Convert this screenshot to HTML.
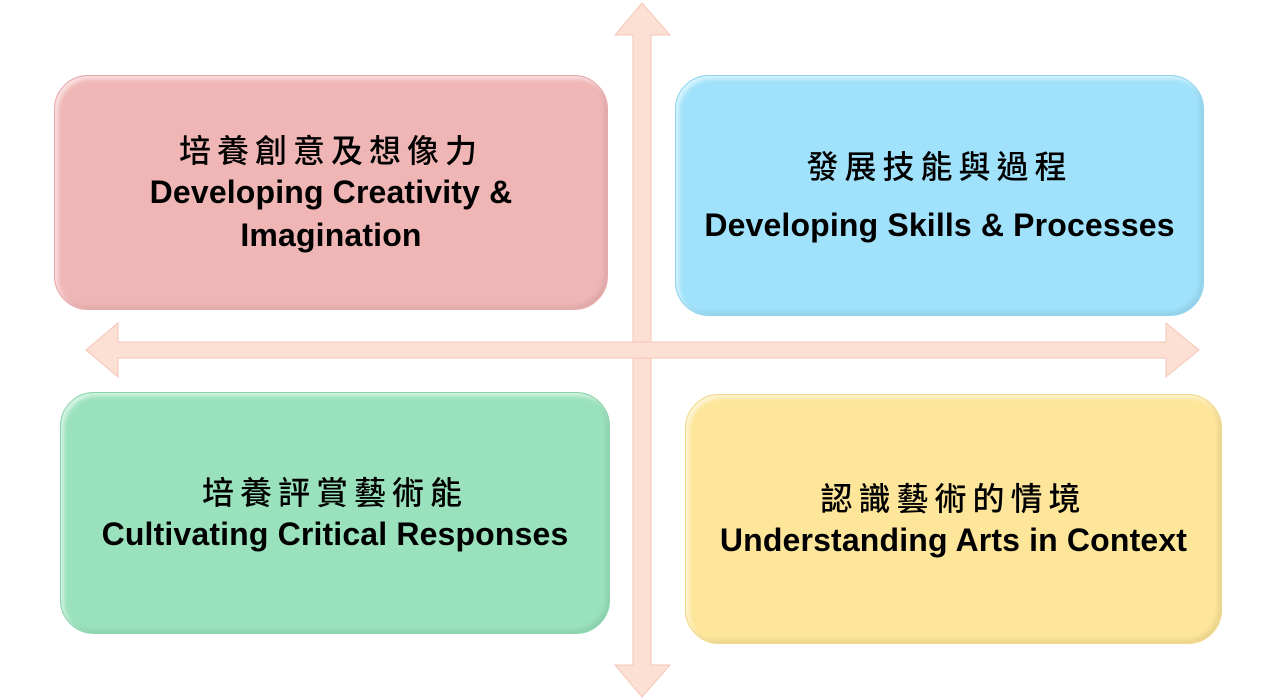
<!DOCTYPE html>
<html><head><meta charset="utf-8"><style>
body{margin:0;width:1280px;height:700px;background:#fff;position:relative;overflow:hidden;font-family:"Liberation Sans","Noto Sans CJK TC",sans-serif}
.b{position:absolute;border-radius:34px;display:flex;flex-direction:column;align-items:center;justify-content:center;text-align:center;color:#000;box-sizing:border-box;box-shadow:inset 3px 3px 4px rgba(255,255,255,.6),inset -3px -3px 4px rgba(0,0,0,.08)}
.zh{font-family:"Noto Sans CJK TC",sans-serif;font-size:32px;letter-spacing:6px;line-height:43px;font-weight:500}
.en{font-weight:bold;font-size:32px;line-height:43px;letter-spacing:0.15px}
svg{position:absolute;left:0;top:0}
</style></head><body>
<svg width="1280" height="700">
<g fill="#fde0d4" stroke="#f4c6b6" stroke-width="1">
<polygon points="633,35 615,35 642,3 670,35 651,35 651,665 670,665 642,697 615,665 633,665"/>
<polygon points="118,342 118,323 86,350 118,377 118,358 1166,358 1166,377 1199,350 1166,323 1166,342"/>
</g>
</svg>
<div class="b" style="left:54px;top:75px;width:554px;height:235px;background:#f0b6b6;border:1px solid #e8a8a8">
<div class="zh">培養創意及想像力</div><div class="en">Developing Creativity &amp;<br>Imagination</div></div>
<div class="b" style="left:675px;top:75px;width:529px;height:241px;background:#a0e2fb;border:1px solid #8fd3f0">
<div class="zh" style="margin-bottom:17px">發展技能與過程</div><div class="en">Developing Skills &amp; Processes</div></div>
<div class="b" style="left:60px;top:392px;width:550px;height:242px;background:#9ae2bd;border:1px solid #88d4ac">
<div class="zh">培養評賞藝術能</div><div class="en">Cultivating Critical Responses</div></div>
<div class="b" style="left:685px;top:394px;width:537px;height:250px;background:#fde69a;border:1px solid #f0d888">
<div class="zh">認識藝術的情境</div><div class="en">Understanding Arts in Context</div></div>
</body></html>
